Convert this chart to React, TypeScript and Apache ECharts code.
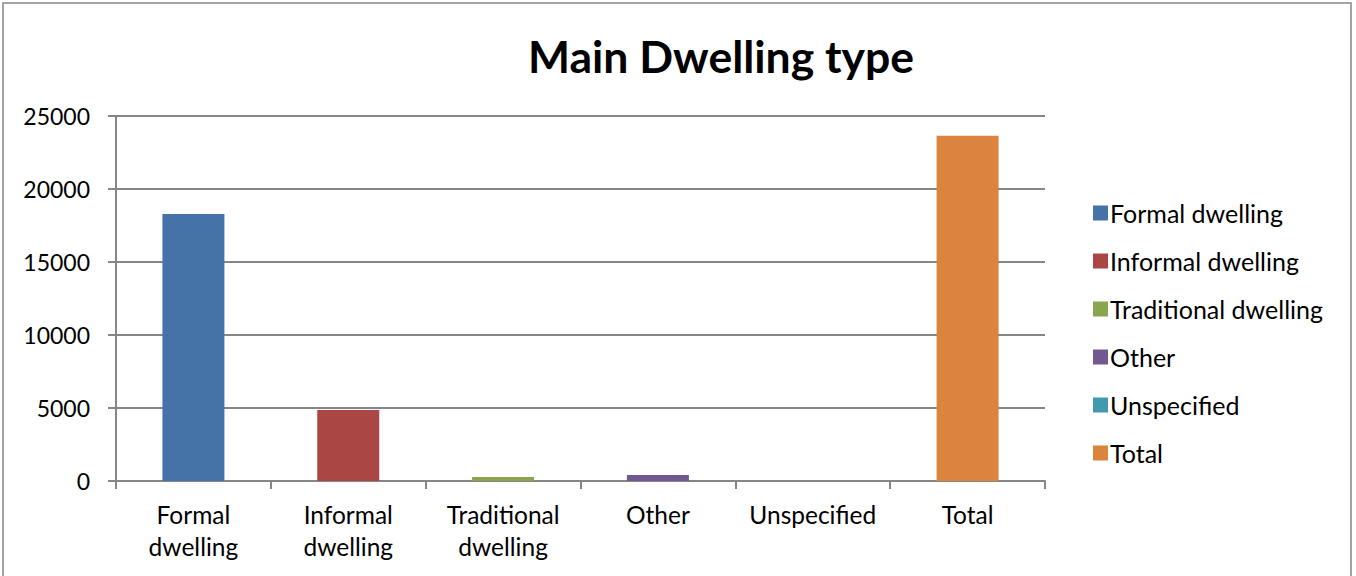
import React, { useEffect, useRef } from "react";
import * as echarts from "echarts";

const categories = ["Formal\ndwelling", "Informal\ndwelling", "Traditional\ndwelling", "Other", "Unspecified", "Total"];
const seriesNames = ["Formal dwelling", "Informal dwelling", "Traditional dwelling", "Other", "Unspecified", "Total"];
const values = [18290, 4860, 270, 410, 0, 23640];
const colors = ["#4572a7", "#aa4643", "#89a54e", "#71588f", "#4198af", "#db843d"];
const yTicks = [0, 5000, 10000, 15000, 20000, 25000];

const FONT = "Lato";

export default function App() {
  const ref = useRef<HTMLDivElement>(null);
  useEffect(() => {
    document.body.style.margin = "0";
    const chart = echarts.init(ref.current!, null, { renderer: "svg" });
    const series = seriesNames.map((name, i) => ({
      name,
      type: "bar",
      stack: "all",
      barWidth: 62,
      itemStyle: { color: colors[i] },
      data: values.map((v, j) => (j === i ? v : null)),
    }));
    chart.setOption({
      animation: false,
      backgroundColor: "#ffffff",
      textStyle: { fontFamily: FONT },
      title: {
        text: "Main Dwelling type",
        left: 716,
        top: 28,
        textAlign: "center",
        textStyle: { fontFamily: FONT, fontSize: 44.5, fontWeight: "bold", color: "#000" },
      },
      graphic: [
        {
          type: "rect",
          shape: { x: 3, y: 3, width: 1348, height: 600 },
          style: { fill: "none", stroke: "#868686", lineWidth: 1.5 },
          silent: true,
        },
      ],
      legend: {
        orient: "vertical",
        left: 1088,
        top: 195,
        itemWidth: 15,
        itemHeight: 15,
        itemGap: 22,
        icon: "rect",
        data: seriesNames,
        textStyle: { fontFamily: FONT, fontSize: 25, lineHeight: 26, color: "#000", padding: [0, 0, 0, -3] },
      },
      grid: { left: 116, right: 311, top: 116, bottom: 95 },
      xAxis: {
        type: "category",
        data: categories,
        axisLine: { lineStyle: { color: "#868686", width: 2 } },
        axisTick: { show: true, length: 8, lineStyle: { color: "#868686", width: 2 } },
        axisLabel: { color: "#000", fontFamily: FONT, fontSize: 24.5, lineHeight: 32, margin: 17, interval: 0 },
      },
      yAxis: {
        type: "value",
        min: 0,
        max: 25000,
        interval: 5000,
        axisLine: { show: true, lineStyle: { color: "#868686", width: 2 } },
        axisTick: { show: true, length: 8, lineStyle: { color: "#868686", width: 2 } },
        splitLine: { lineStyle: { color: "#868686", width: 2 } },
        axisLabel: {
          color: "#000",
          fontFamily: FONT,
          fontSize: 23,
          margin: 26,
          formatter: (v: number) => (yTicks.includes(v) ? String(v) : ""),
        },
      },
      series,
    });
    return () => chart.dispose();
  }, []);
  return <div ref={ref} style={{ width: 1356, height: 576 }} />;
}
